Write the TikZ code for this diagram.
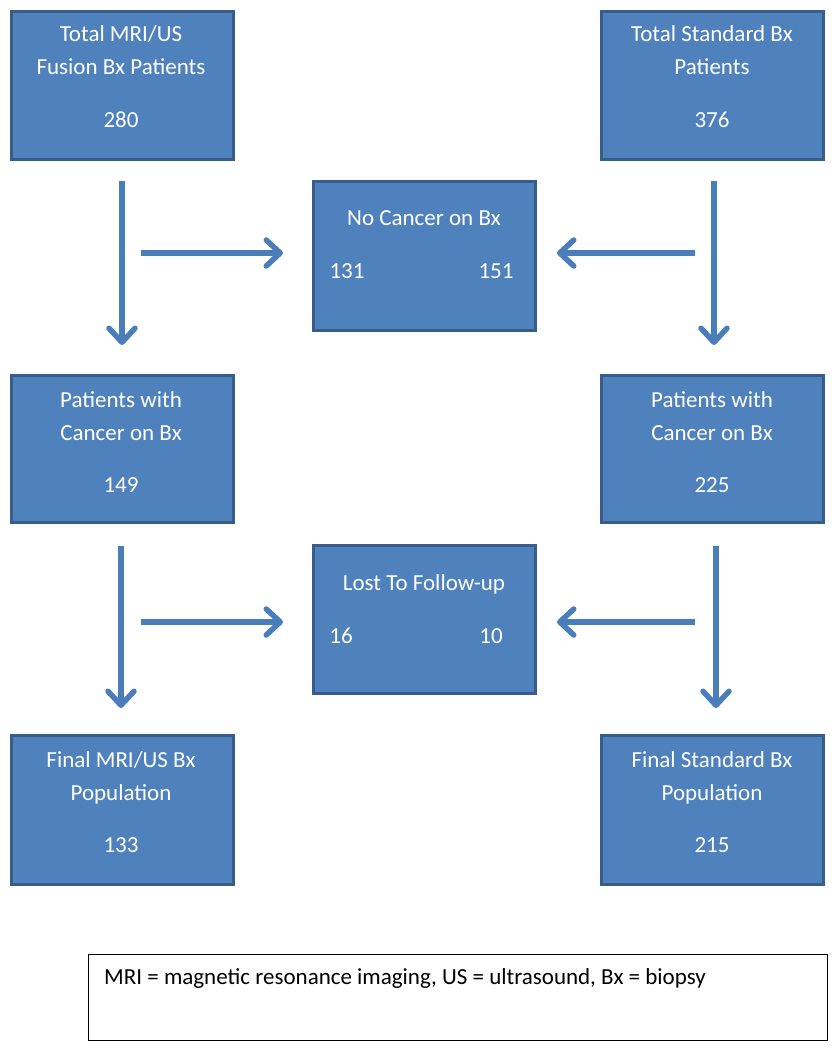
\documentclass[tikz,border=0pt]{standalone}
\usepackage{fontspec}
\setmainfont{Carlito}
\usetikzlibrary{arrows.meta}
\definecolor{boxfill}{HTML}{4F81BD}
\definecolor{boxline}{HTML}{385D8A}
\definecolor{arrowcol}{HTML}{4A7EBB}
\begin{document}
\begin{tikzpicture}[x=1pt,y=-1pt,
  bluebox/.style={draw=boxline,fill=boxfill,line width=3pt},
  txt/.style={text=white,font=\fontsize{23}{27}\selectfont,inner sep=0pt,anchor=base},
  flow/.style={draw=arrowcol,line width=5.5pt,-{Straight Barb[length=14pt,width=26pt,line cap=round,line join=round]}}]
\useasboundingbox (0,0) rectangle (835,1050);
% boxes
\draw[bluebox] (11,11) rectangle (233,159) node[pos=.5] (b1) {};
\draw[bluebox] (601,11) rectangle (823,159) node[pos=.5] (b2) {};
\draw[bluebox] (313,181) rectangle (535,330) node[pos=.5] (b3) {};
\draw[bluebox] (11,375) rectangle (233,522) node[pos=.5] (b4) {};
\draw[bluebox] (601,375) rectangle (823,522) node[pos=.5] (b5) {};
\draw[bluebox] (313,545) rectangle (535,693) node[pos=.5] (b6) {};
\draw[bluebox] (11,735) rectangle (233,884) node[pos=.5] (b7) {};
\draw[bluebox] (601,735) rectangle (823,884) node[pos=.5] (b8) {};
\draw[black,line width=1pt] (88,954) rectangle (827,1040) node[pos=.5] (leg) {};
% texts
\node[txt] (t1a) at (121,41) {Total MRI/US};
\node[txt] (t1b) at (121,74) {Fusion Bx Patients};
\node[txt] (t1c) at (121,127) {280};
\node[txt] (t2a) at (712,41) {Total Standard Bx};
\node[txt] (t2b) at (712,74) {Patients};
\node[txt] (t2c) at (712,127) {376};
\node[txt] (t3a) at (424,225) {No Cancer on Bx};
\node[txt] (t3b) at (347,278) {131};
\node[txt] (t3c) at (496,278) {151};
\node[txt] (t4a) at (121,407) {Patients with};
\node[txt] (t4b) at (121,440) {Cancer on Bx};
\node[txt] (t4c) at (121,492) {149};
\node[txt] (t5a) at (712,407) {Patients with};
\node[txt] (t5b) at (712,440) {Cancer on Bx};
\node[txt] (t5c) at (712,492) {225};
\node[txt] (t6a) at (424,590) {Lost To Follow-up};
\node[txt] (t6b) at (341,643) {16};
\node[txt] (t6c) at (491,643) {10};
\node[txt] (t7a) at (121,767) {Final MRI/US Bx};
\node[txt] (t7b) at (121,800) {Population};
\node[txt] (t7c) at (121,852) {133};
\node[txt] (t8a) at (712,767) {Final Standard Bx};
\node[txt] (t8b) at (712,800) {Population};
\node[txt] (t8c) at (712,852) {215};
\node[txt,text=black,anchor=base west] (legt) at (104,984) {MRI = magnetic resonance imaging, US = ultrasound, Bx = biopsy};
% arrow endpoints
\coordinate (a1s) at (122,181); \coordinate (a1e) at (122,345);
\coordinate (a2s) at (141,253); \coordinate (a2e) at (283,253);
\coordinate (a3s) at (695,253); \coordinate (a3e) at (557,253);
\coordinate (a4s) at (714,181); \coordinate (a4e) at (714,345);
\coordinate (a5s) at (121,546); \coordinate (a5e) at (121,708);
\coordinate (a6s) at (141,622); \coordinate (a6e) at (283,622);
\coordinate (a7s) at (695,622); \coordinate (a7e) at (557,622);
\coordinate (a8s) at (716,546); \coordinate (a8e) at (716,708);
\foreach \i in {1,...,8} {\draw[flow] (a\i s) -- (a\i e);}
\end{tikzpicture}
\end{document}
